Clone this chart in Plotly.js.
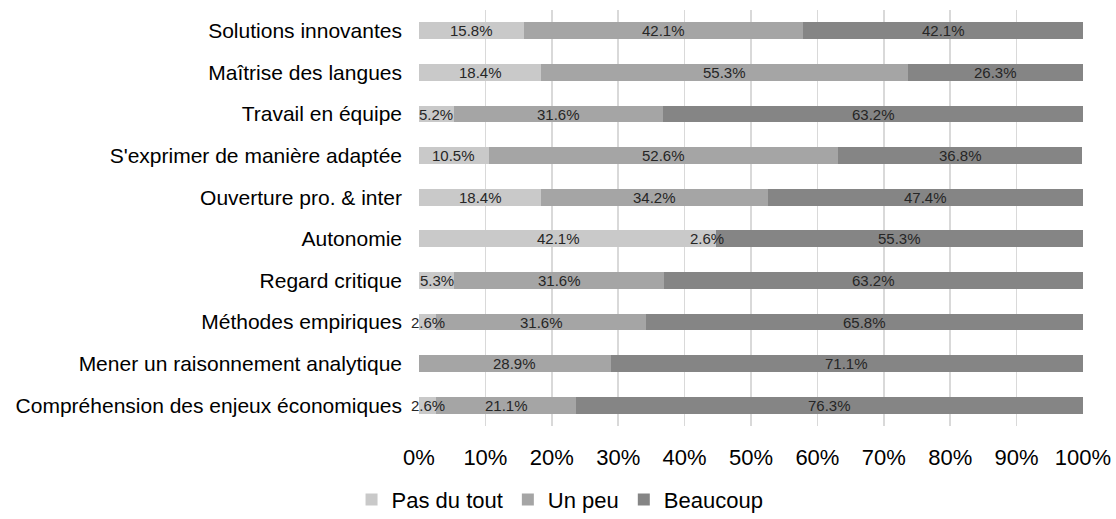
<!DOCTYPE html>
<html><head><meta charset="utf-8">
<script src="https://cdn.plot.ly/plotly-3.0.1.min.js"></script>
<style>body{margin:0;background:#fff}#c{width:1116px;height:519px}</style>
</head><body><div id="c"></div>
<script>
const categories = ["Solutions innovantes","Maîtrise des langues","Travail en équipe","S'exprimer de manière adaptée","Ouverture pro. & inter","Autonomie","Regard critique","Méthodes empiriques","Mener un raisonnement analytique","Compréhension des enjeux économiques"];
const pasDuTout = [15.8,18.4,5.2,10.5,18.4,42.1,5.3,2.6,0,2.6];
const unPeu     = [42.1,55.3,31.6,52.6,34.2,2.6,31.6,31.6,28.9,21.1];
const beaucoup  = [42.1,26.3,63.2,36.8,47.4,55.3,63.2,65.8,71.1,76.3];
const seriesNames = ["Pas du tout","Un peu","Beaucoup"];
const colLight = "#C9C9C9", colMid = "#A5A5A5", colDark = "#858585";

const series = [pasDuTout, unPeu, beaucoup];
const colors = [colLight, colMid, colDark];
// In "Autonomie" the "Un peu" segment is drawn in the light colour in the original
const midColors = categories.map(c => c === "Autonomie" ? colLight : colMid);

const traces = series.map((vals, i) => ({
  type: "bar", orientation: "h", name: seriesNames[i],
  y: categories, x: vals.map(v => v/100),
  marker: {color: i === 1 ? midColors : colors[i], line:{width:0}},
  hoverinfo: "none", textposition: "none"
}));

const annotations = [];
categories.forEach((c, j) => {
  let cum = 0;
  series.forEach(s => {
    const v = s[j];
    if (v > 0) {
      annotations.push({x: (cum + v/2)/100, y: c, xref: "x", yref: "y",
        text: v.toFixed(1) + "%", showarrow: false,
        font: {family: "Liberation Sans, Arial, sans-serif", size: 15, color: "#262626"}});
    }
    cum += v;
  });
});

const layout = {
  width: 1116, height: 519,
  margin: {l: 419, r: 33, t: 10, b: 93, autoexpand: false},
  barmode: "stack", bargap: 0.6,
  paper_bgcolor: "#fff", plot_bgcolor: "#fff",
  font: {family: "Liberation Sans, Arial, sans-serif", color: "#000"},
  xaxis: {range: [0, 1], tickformat: ".0%", dtick: 0.1, showgrid: true,
    gridcolor: "#D9D9D9", gridwidth: 1.5, zeroline: false, showline: false,
    tickfont: {size: 22, color: "#000"}, ticks: "", ticklabelstandoff: 16, fixedrange: true},
  yaxis: {autorange: "reversed", showgrid: false, zeroline: false, showline: false,
    tickfont: {size: 21, color: "#000"}, ticks: "", ticklabelstandoff: 16},
  legend: {orientation: "h", xref: "container", yref: "container",
    x: 0.315, xanchor: "left", y: 0.037, yanchor: "middle",
    font: {size: 22, color: "#000"}, traceorder: "normal", itemwidth: 30},
  annotations: annotations, showlegend: true
};

Plotly.newPlot("c", traces, layout, {displayModeBar: false, staticPlot: true});
</script></body></html>
